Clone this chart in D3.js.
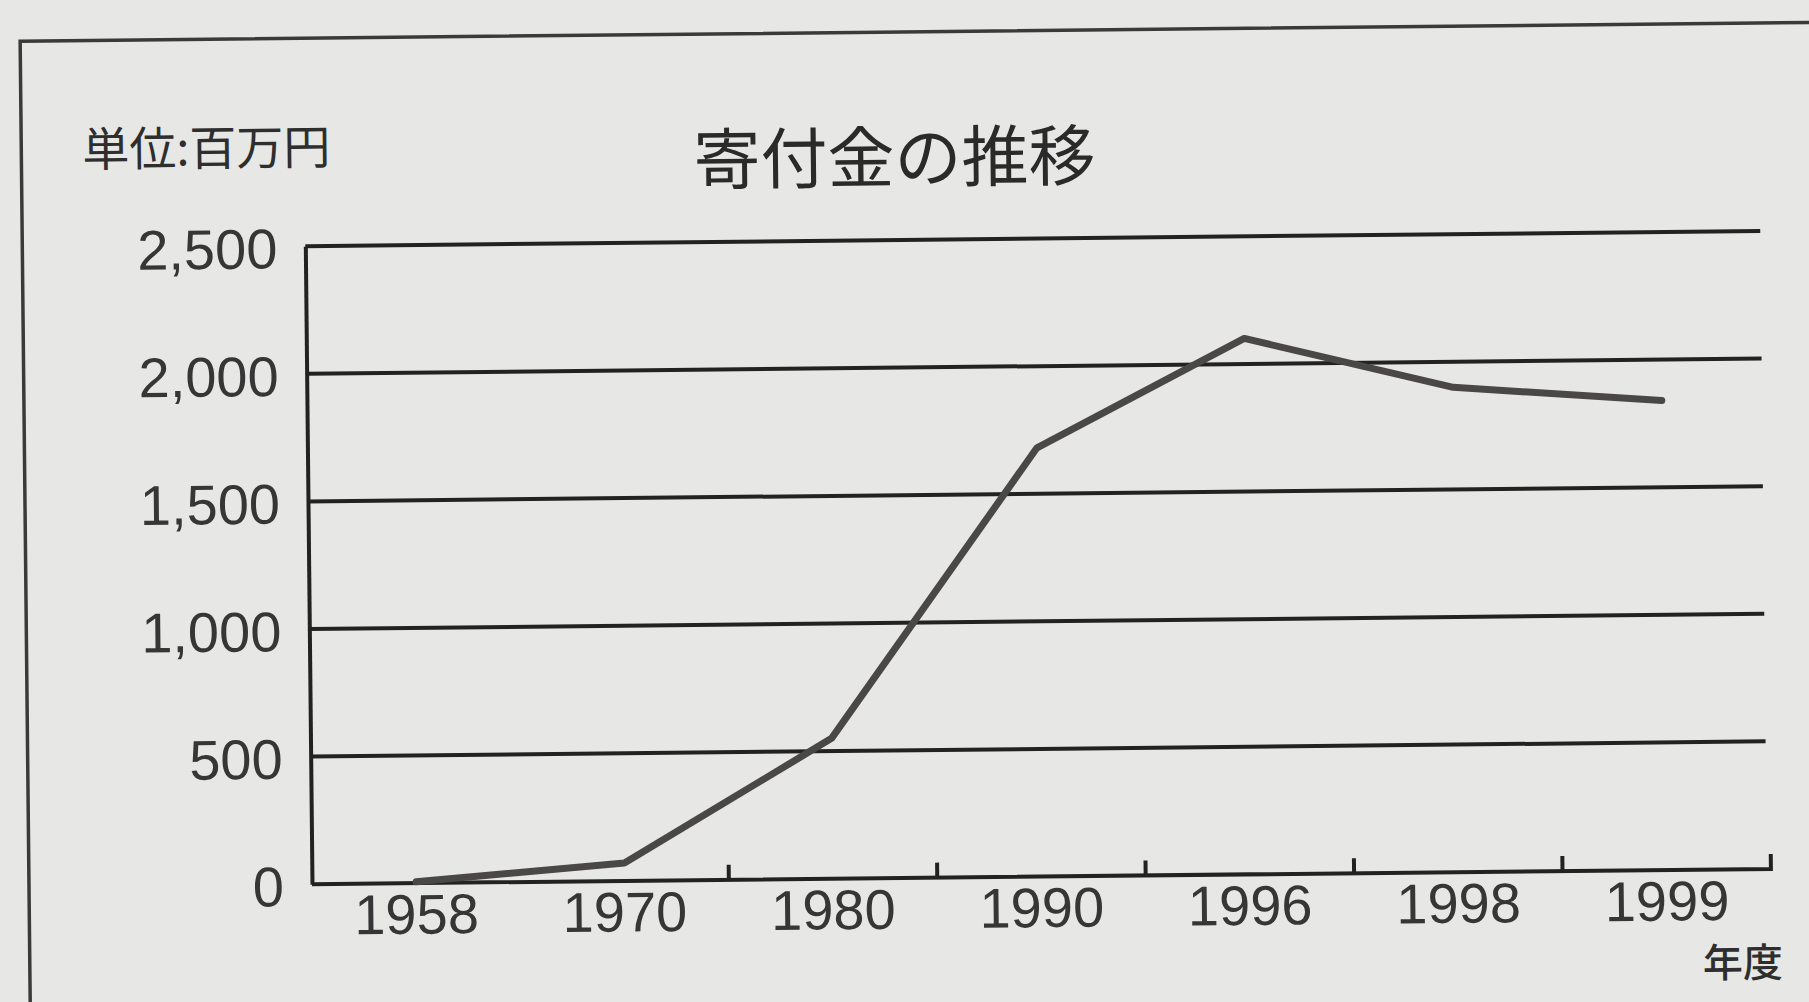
<!DOCTYPE html>
<html>
<head>
<meta charset="utf-8">
<script src="https://cdn.jsdelivr.net/npm/d3@7"></script>
<style>
  html, body { margin: 0; padding: 0; background: #e7e8e6; }
  svg { display: block; }
</style>
</head>
<body>
<svg id="chart" width="1809" height="1002"></svg>
<script>
// ---- data ----
const years = ["1958", "1970", "1980", "1990", "1996", "1998", "1999"];
const donations = [5, 70, 550, 1680, 2100, 1900, 1840];
const yTicks = [0, 500, 1000, 1500, 2000, 2500];
const titleText = "寄付金の推移";
const unitText = "単位:百万円";
const xAxisUnit = "年度";

// ---- layout ----
const W = 1809, H = 1002;
const margin = { left: 308, right: 1767, top: 240, bottom: 878 };

const svg = d3.select("#chart");
svg.append("rect").attr("width", W).attr("height", H).attr("fill", "#e7e8e6");

const root = svg.append("g").attr("transform", "rotate(-0.6, 900, 500)");

// outer frame (page box)
root.append("path")
  .attr("d", "M25,1010 L25,32 L1830,32")
  .attr("fill", "none").attr("stroke", "#3a3a3a").attr("stroke-width", 3.5);

const x = d3.scaleBand().domain(years).range([margin.left, margin.right]).padding(0);
const y = d3.scaleLinear().domain([0, 2500]).range([margin.bottom, margin.top]);

const ink = "#222222";
const txt = "#363636";

// gridlines
root.append("g").selectAll("line").data(yTicks.filter(d => d > 0)).join("line")
  .attr("x1", margin.left).attr("x2", margin.right - 4)
  .attr("y1", d => y(d)).attr("y2", d => y(d))
  .attr("stroke", ink).attr("stroke-width", 4);

// y axis
const yAxis = d3.axisLeft(y).tickValues(yTicks).tickSize(0).tickPadding(28)
  .tickFormat(d3.format(","));
const gy = root.append("g").attr("transform", `translate(${margin.left},0)`).call(yAxis);
gy.select(".domain").attr("stroke", ink).attr("stroke-width", 4);
gy.selectAll("text")
  .attr("font-family", "'Liberation Sans', Arial, sans-serif")
  .attr("font-size", 56).attr("fill", txt).attr("dy", "0.38em");

// x axis
const xAxis = d3.axisBottom(x).tickSize(0).tickPadding(8);
const gx = root.append("g").attr("transform", `translate(0,${margin.bottom})`).call(xAxis);
gx.select(".domain").attr("d", `M${margin.left},0H${margin.right}V-15`)
  .attr("stroke", ink).attr("stroke-width", 4).attr("fill", "none");
gx.selectAll("text")
  .attr("font-family", "'Liberation Sans', Arial, sans-serif")
  .attr("font-size", 56).attr("fill", txt).attr("dy", "0.76em");

// band-boundary ticks (pointing up)
root.append("g").selectAll("line").data(years.slice(2)).join("line")
  .attr("x1", d => x(d)).attr("x2", d => x(d))
  .attr("y1", margin.bottom).attr("y2", margin.bottom - 15)
  .attr("stroke", ink).attr("stroke-width", 4);

// data line
const line = d3.line()
  .x((d, i) => x(years[i]) + x.bandwidth() / 2)
  .y(d => y(d));
root.append("path").datum(donations)
  .attr("d", line)
  .attr("fill", "none")
  .attr("stroke", "#4a4747")
  .attr("stroke-width", 7)
  .attr("stroke-linejoin", "round")
  .attr("stroke-linecap", "round");

// titles
root.append("text").attr("x", 898).attr("y", 182)
  .attr("text-anchor", "middle")
  .attr("font-family", "'Noto Sans CJK JP', sans-serif")
  .attr("font-size", 67).attr("fill", "#2a2a2a")
  .text(titleText);

root.append("text").attr("x", 86).attr("y", 158)
  .attr("font-family", "'Noto Sans CJK JP', sans-serif")
  .attr("font-size", 47).attr("fill", "#2e2e2e")
  .text(unitText);

root.append("text").attr("x", 1778).attr("y", 986)
  .attr("text-anchor", "end")
  .attr("font-family", "'Noto Sans CJK JP', sans-serif")
  .attr("font-size", 40).attr("font-weight", 500).attr("fill", "#2e2e2e")
  .text(xAxisUnit);
</script>
</body>
</html>
